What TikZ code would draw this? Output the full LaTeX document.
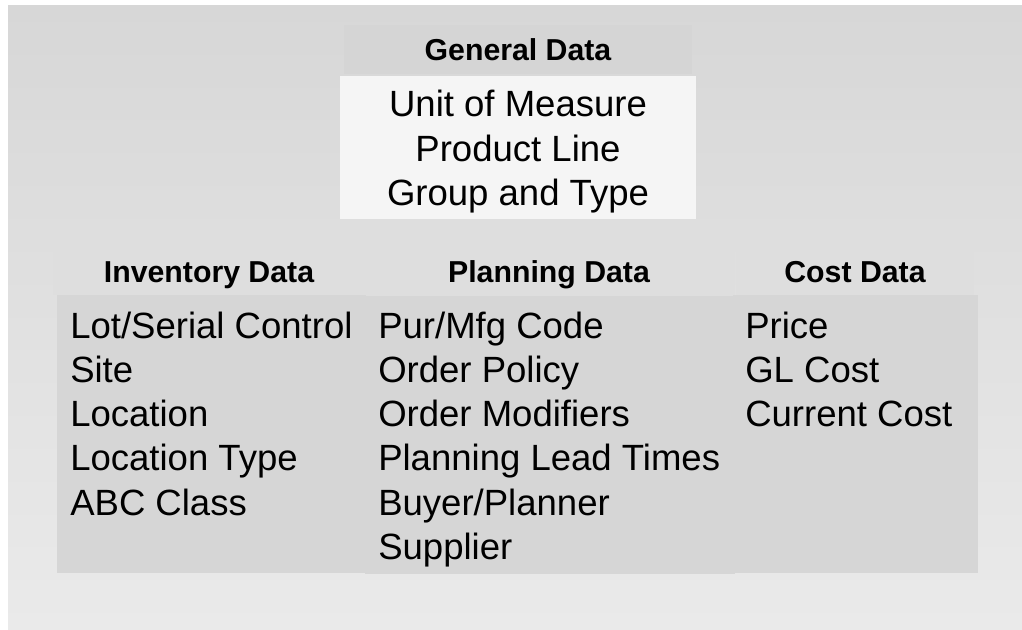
\documentclass[tikz,border=0pt]{standalone}
\usepackage{fontspec}
\setmainfont{Liberation Sans}
\usepackage{tikz}
\usetikzlibrary{positioning}
\definecolor{bgtop}{HTML}{D7D7D7}
\definecolor{bgbottom}{HTML}{EAEAEA}
\definecolor{headfill}{HTML}{D5D5D5}
\definecolor{lowhead}{HTML}{DEDEDE}
\definecolor{bodyfill}{HTML}{D6D6D6}
\definecolor{whitefill}{HTML}{F5F5F5}
\tikzset{heading/.style = {font=\fontsize{22.7}{27}\bfseries\selectfont, inner sep=0, anchor=base}}
\tikzset{item/.style = {font=\fontsize{27.4}{33}\selectfont, inner sep=0, anchor=base west}}
\tikzset{centreitem/.style = {item, anchor=base}}

\begin{document}
\begin{tikzpicture}[x=0.75pt, y=-0.75pt]
      \useasboundingbox (0, 0) rectangle (1022, 629);
      \shade [top color=bgtop, bottom color=bgbottom] (8, 5) rectangle (1022, 629);

      % general data
      \fill [headfill] (344, 25) rectangle (692, 74);
      \fill [whitefill] (340, 76) rectangle (696, 219);
      \node [heading] (gen) at (518, 60) {General Data};
      \foreach \t [count=\i] in {Unit of Measure, Product Line, Group and Type}
        \node [centreitem] (gen-\i) at (518, 72.4 + 44.3*\i) {\t};

      % lower headings
      \fill [lowhead] (53, 246) rectangle (366, 295);
      \fill [lowhead] (366, 246) rectangle (735, 296);
      \fill [lowhead] (736, 247) rectangle (974, 295);
      \node [heading] (inv) at (209, 282) {Inventory Data};
      \node [heading] (plan) at (549, 282) {Planning Data};
      \node [heading] (cost) at (855, 282) {Cost Data};

      % lower bodies
      \fill [bodyfill] (57, 295) rectangle (366, 573);
      \fill [bodyfill] (365, 296) rectangle (735, 574);
      \fill [bodyfill] (733, 295) rectangle (978, 573);

      \foreach \t [count=\i] in {Lot/Serial Control, Site, Location, Location Type, ABC Class}
        \node [item] (inv-\i) at (70, 293.7 + 44.3*\i) {\t};
      \foreach \t [count=\i] in {Pur/Mfg Code, Order Policy, Order Modifiers,
                                 Planning Lead Times, Buyer/Planner, Supplier}
        \node [item] (plan-\i) at (378, 293.7 + 44.3*\i) {\t};
      \foreach \t [count=\i] in {Price, GL Cost, Current Cost}
        \node [item] (cost-\i) at (745, 293.7 + 44.3*\i) {\t};
    \end{tikzpicture}
\end{document}
